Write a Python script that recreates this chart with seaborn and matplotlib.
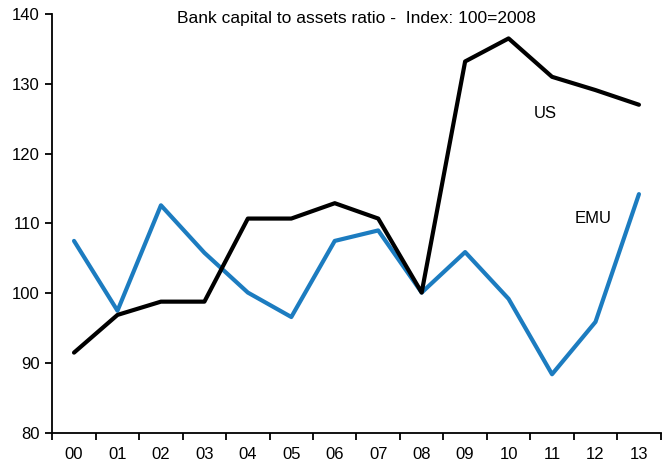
import pandas as pd
import matplotlib.pyplot as plt
import seaborn as sns

# Bank capital to assets ratio, index 100 = 2008
years = ['00', '01', '02', '03', '04', '05', '06', '07', '08', '09', '10', '11', '12', '13']
us = [91.5, 96.9, 98.8, 98.8, 110.7, 110.7, 112.9, 110.7, 100.1, 133.2, 136.5, 131.0, 129.1, 127.0]
emu = [107.5, 97.5, 112.6, 105.8, 100.1, 96.6, 107.5, 109.0, 100.1, 105.9, 99.2, 88.4, 95.9, 114.2]

df = pd.DataFrame({'year': list(range(len(years))) * 2,
                   'value': us + emu,
                   'region': ['US'] * len(years) + ['EMU'] * len(years)})

sns.set_style("ticks")
plt.rcParams['font.family'] = ['Liberation Sans', 'DejaVu Sans']
plt.rcParams['text.color'] = 'black'
plt.rcParams['xtick.color'] = 'black'
plt.rcParams['ytick.color'] = 'black'

fig = plt.figure(figsize=(6.62, 4.66), dpi=100)
ax = fig.add_axes([0.079, 0.071, 0.919, 0.899])

sns.lineplot(data=df, x='year', y='value', hue='region',
             palette={'US': '#000000', 'EMU': '#1c7cc0'},
             hue_order=['EMU', 'US'], linewidth=3.0, legend=False, ax=ax)

ax.set_xlim(-0.5, len(years) - 0.5)
ax.set_ylim(80, 140)
ax.set_yticks(range(80, 141, 10))
ax.set_xticks(range(len(years)))
ax.set_xticklabels(years)
ax.set_xticks([i + 0.5 for i in range(-1, len(years))], minor=True)
ax.tick_params(axis='x', which='major', length=0, pad=10, labelsize=12)
ax.tick_params(axis='x', which='minor', length=5, width=1.3, direction='out')
ax.tick_params(axis='y', length=5, width=1.3, labelsize=12, pad=4)
ax.set_xlabel('')
ax.set_ylabel('')
for s in ['top', 'right']:
    ax.spines[s].set_visible(False)
for s in ['left', 'bottom']:
    ax.spines[s].set_linewidth(1.3)
    ax.spines[s].set_color('black')

ax.text(0.5, 0.99, 'Bank capital to assets ratio -  Index: 100=2008',
        transform=ax.transAxes, ha='center', va='center', fontsize=12.5)
ax.text(10.85, 125.7, 'US', ha='center', va='center', fontsize=12)
ax.text(11.95, 110.7, 'EMU', ha='center', va='center', fontsize=12)

fig.savefig('out.png', dpi=100)
